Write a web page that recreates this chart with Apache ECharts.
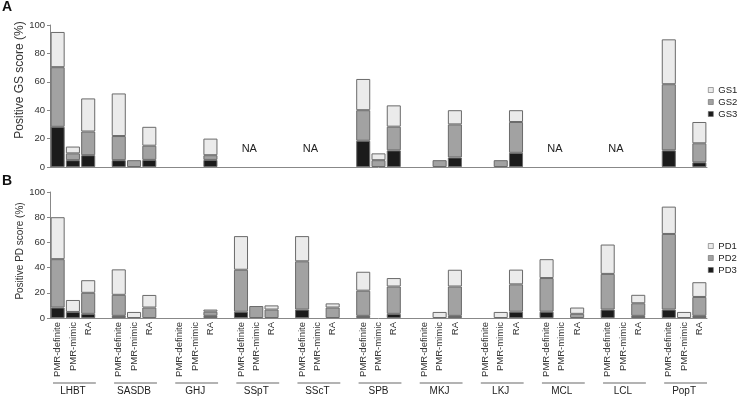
<!DOCTYPE html>
<html>
<head>
<meta charset="utf-8">
<script src="https://cdn.jsdelivr.net/npm/echarts@6/dist/echarts.min.js"></script>
<style>
    html, body { margin: 0; padding: 0; background: #fff; }
    #main { width: 739px; height: 396px; }
</style>
</head>
<body>
<div id="main"></div>
<script>
/*==================== 数据 ====================*/
var sites = ['LHBT', 'SASDB', 'GHJ', 'SSpT', 'SScT', 'SPB', 'MKJ', 'LKJ', 'MCL', 'LCL', 'PopT'];
var groups = ['PMR-definite', 'PMR-mimic', 'RA'];
var naSites = ['SSpT', 'SScT', 'MCL', 'LCL']; // A图无数据
var yTicks = [0, 20, 40, 60, 80, 100];

// A: GS score, 每个部位3个值 (PMR-definite, PMR-mimic, RA)
var gs3 = [28.3, 4.8, 8.3,  4.8, 0, 5.0,  0, 0, 5.0,  0, 0, 0,  0, 0, 0,  18.5, 0, 11.7,  0, 0, 6.7,  0, 0, 10.0,  0, 0, 0,  0, 0, 0,  11.7, 0, 3.3];
var gs2 = [42.0, 4.8, 16.7,  17.0, 4.8, 10.0,  0, 0, 3.3,  0, 0, 0,  0, 0, 0,  21.5, 4.8, 16.7,  0, 4.8, 23.3,  0, 4.8, 21.7,  0, 0, 0,  0, 0, 0,  46.6, 0, 13.4];
var gs1 = [24.8, 4.8, 23.3,  30.0, 0, 13.3,  0, 0, 11.7,  0, 0, 0,  0, 0, 0,  22.0, 4.8, 15.0,  0, 0, 10.0,  0, 0, 8.3,  0, 0, 0,  0, 0, 0,  31.6, 0, 15.0];

// B: PD score
var pd3 = [8.3, 4.8, 3.3,  1.7, 0, 0,  0, 0, 1.7,  5.0, 0, 0,  6.7, 0, 0,  1.7, 0, 3.3,  0, 0, 1.7,  0, 0, 5.0,  5.0, 0, 0,  6.7, 0, 1.7,  6.7, 0, 1.7];
var pd2 = [38.4, 0, 16.7,  16.7, 0, 8.3,  0, 0, 3.3,  33.3, 9.5, 6.7,  38.3, 0, 8.3,  20.0, 0, 21.7,  0, 0, 23.3,  0, 0, 21.7,  26.7, 0, 3.3,  28.3, 0, 10.0,  60.0, 0, 15.0];
var pd1 = [33.3, 9.5, 10.0,  20.2, 4.8, 10.0,  0, 0, 1.7,  26.7, 0, 3.3,  20.0, 0, 3.3,  15.0, 0, 6.7,  0, 4.8, 13.3,  0, 4.8, 11.7,  15.0, 0, 5.0,  23.3, 0, 6.7,  21.7, 4.8, 11.7];

var colors = { s1: '#ebebeb', s2: '#a2a2a2', s3: '#1b1b1b' };
var font = 'Liberation Sans, Arial, sans-serif';

/*==================== 类目 (部位之间留空位) ====================*/
var cats = [];
sites.forEach(function (s, i) {
    groups.forEach(function (g) { cats.push(s + '|' + g); });
    if (i < sites.length - 1) cats.push('gap' + i);
});
function expand(arr) {
    var out = [];
    sites.forEach(function (s, i) {
        for (var j = 0; j < 3; j++) {
            var v = arr[i * 3 + j];
            out.push(v ? v : '-');
        }
        if (i < sites.length - 1) out.push('-');
    });
    return out;
}
function catLabel(v) {
    return v.indexOf('|') > -1 ? v.split('|')[1] : '';
}

function barSeries(name, data, color, idx, stack) {
    return {
        name: name,
        type: 'bar',
        stack: stack,
        xAxisIndex: idx,
        yAxisIndex: idx,
        barCategoryGap: '8%',
        itemStyle: { color: color, borderColor: '#6a6a6a', borderWidth: 1 },
        data: expand(data)
    };
}
function legendOf(names, top) {
    return {
        data: names,
        orient: 'vertical',
        left: 703,
        top: top,
        width: 36,
        itemWidth: 5,
        itemHeight: 5,
        itemGap: 2,
        icon: 'rect',
        itemStyle: { borderWidth: 0.6, borderColor: '#666' },
        textStyle: { fontSize: 9.5, color: '#222', fontFamily: font, overflow: 'none' }
    };
}

var myChart = echarts.init(document.getElementById('main'));

var yAxisBase = {
    type: 'value',
    min: 0,
    max: 100,
    interval: 20,
    axisLine: { show: true, lineStyle: { color: '#888' } },
    axisTick: { show: true, length: 3, lineStyle: { color: '#888' } },
    splitLine: { show: false },
    axisLabel: {
        fontSize: 9.5, color: '#333', fontFamily: font, margin: 5,
        formatter: function (v) { return yTicks.indexOf(v) > -1 ? v : ''; }
    }
};

var option = {
    animation: false,
    backgroundColor: '#fff',
    textStyle: { fontFamily: font },
    grid: [
        { left: 50, right: 32, top: 25, height: 142, outerBoundsMode: 'none' },
        { left: 50, right: 32, top: 192, height: 126, outerBoundsMode: 'none' }
    ],
    legend: [legendOf(['GS1', 'GS2', 'GS3'], 80), legendOf(['PD1', 'PD2', 'PD3'], 236)],
    xAxis: [{
        type: 'category',
        gridIndex: 0,
        data: cats,
        axisLine: { lineStyle: { color: '#888' } },
        axisTick: { show: false },
        axisLabel: { show: false }
    }, {
        type: 'category',
        gridIndex: 1,
        data: cats,
        axisLine: { lineStyle: { color: '#888' } },
        axisTick: { show: false },
        axisLabel: {
            interval: 0,
            rotate: 90,
            margin: 4,
            fontSize: 9.5,
            color: '#333',
            fontFamily: font,
            formatter: catLabel
        }
    }],
    yAxis: [
        echarts.util.merge({ gridIndex: 0 }, yAxisBase, true),
        echarts.util.merge({ gridIndex: 1 }, yAxisBase, true)
    ],
    series: [
        barSeries('GS3', gs3, colors.s3, 0, 'gs'),
        barSeries('GS2', gs2, colors.s2, 0, 'gs'),
        barSeries('GS1', gs1, colors.s1, 0, 'gs'),
        barSeries('PD3', pd3, colors.s3, 1, 'pd'),
        barSeries('PD2', pd2, colors.s2, 1, 'pd'),
        barSeries('PD1', pd1, colors.s1, 1, 'pd')
    ]
};
myChart.setOption(option);

/*==================== 部位标签 / NA / 标题 ====================*/
var gfx = [];
var x0 = myChart.convertToPixel({ xAxisIndex: 1 }, 0);
var half = (myChart.convertToPixel({ xAxisIndex: 1 }, 1) - x0) / 2;
sites.forEach(function (s, i) {
    var first = myChart.convertToPixel({ xAxisIndex: 1 }, i * 4);
    var last = myChart.convertToPixel({ xAxisIndex: 1 }, i * 4 + 2);
    gfx.push({
        type: 'line',
        shape: { x1: first - half + 3, y1: 383, x2: last + half, y2: 383 },
        style: { stroke: '#9a9a9a', lineWidth: 1.5 }
    });
    gfx.push({
        type: 'text',
        x: (first + last) / 2,
        y: 391,
        style: { text: s, fontSize: 10, fill: '#222', fontFamily: font, align: 'center', verticalAlign: 'middle' }
    });
    if (naSites.indexOf(s) > -1) {
        var mid = myChart.convertToPixel({ xAxisIndex: 0 }, i * 4 + 1);
        gfx.push({
            type: 'text',
            x: mid - 7,
            y: 149,
            style: { text: 'NA', fontSize: 11, fill: '#222', fontFamily: font, align: 'center', verticalAlign: 'middle' }
        });
    }
});
gfx.push({ type: 'text', x: 2, y: 0, style: { text: 'A', fontSize: 14, fontWeight: 'bold', fill: '#111', fontFamily: font } });
gfx.push({ type: 'text', x: 2, y: 174, style: { text: 'B', fontSize: 14, fontWeight: 'bold', fill: '#111', fontFamily: font } });
gfx.push({
    type: 'text', x: 20, y: 80, rotation: Math.PI / 2,
    style: { text: 'Positive GS score (%)', fontSize: 12, fill: '#333', fontFamily: font, align: 'center', verticalAlign: 'middle' }
});
gfx.push({
    type: 'text', x: 20, y: 251, rotation: Math.PI / 2,
    style: { text: 'Positive PD score (%)', fontSize: 10, fill: '#333', fontFamily: font, align: 'center', verticalAlign: 'middle' }
});
myChart.setOption({ graphic: gfx });
</script>
</body>
</html>
